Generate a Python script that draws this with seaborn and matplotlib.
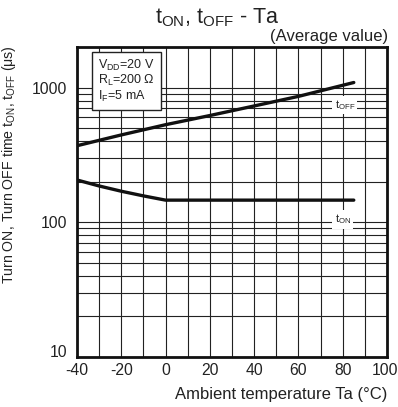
import matplotlib
matplotlib.use("Agg")
import matplotlib.pyplot as plt
import matplotlib.transforms as mtransforms
import seaborn as sns
import pandas as pd
from matplotlib.ticker import FixedLocator, LogLocator, NullFormatter

# Data
ta_off = [-40, -20, 0, 20, 40, 60, 85]
t_off = [370, 445, 530, 620, 730, 860, 1090]
ta_on = [-40, -30, -20, -10, 0, 40, 85]
t_on = [206, 186, 170, 157, 146, 146, 146]
x_ticks = [-40, -20, 0, 20, 40, 60, 80, 100]
y_ticks = [10, 100, 1000]

sns.set_style("white")
plt.rcParams['font.family'] = ['Liberation Sans', 'DejaVu Sans']
plt.rcParams['mathtext.fontset'] = 'custom'
plt.rcParams['mathtext.rm'] = 'Liberation Sans'
plt.rcParams['axes.unicode_minus'] = False

TXT = "#222222"
fig = plt.figure(figsize=(3.98, 4.07), dpi=100)
ax = fig.add_axes([77/398, 50/407, 310/398, 310/407])

df_off = pd.DataFrame({"Ta": ta_off, "t": t_off})
df_on = pd.DataFrame({"Ta": ta_on, "t": t_on})
sns.lineplot(data=df_off, x="Ta", y="t", ax=ax, color="#111111", lw=2.4, zorder=5)
sns.lineplot(data=df_on, x="Ta", y="t", ax=ax, color="#111111", lw=2.4, zorder=5)

ax.set_yscale("log")
ax.set_xlim(-40, 100)
ax.set_ylim(10, 2000)
ax.xaxis.set_major_locator(FixedLocator(x_ticks))
ax.xaxis.set_minor_locator(FixedLocator(list(range(-40, 101, 10))))
ax.yaxis.set_major_locator(FixedLocator(y_ticks))
ax.yaxis.set_minor_locator(LogLocator(base=10, subs=range(2, 10)))
ax.yaxis.set_minor_formatter(NullFormatter())
ax.set_xticklabels([str(v) for v in x_ticks])
ax.set_yticklabels([str(v) for v in y_ticks])
ax.grid(True, which="both", color="#222222", lw=0.8)
ax.tick_params(axis="x", which="both", length=0, labelsize=11.3, colors=TXT, pad=4)
ax.tick_params(axis="y", which="both", length=0, labelsize=11.3, colors=TXT, pad=7)
xl = ax.get_xticklabels()
xl[-1].set_transform(xl[-1].get_transform() + mtransforms.ScaledTranslation(-2/100, 0, fig.dpi_scale_trans))
yl = ax.get_yticklabels()
yl[0].set_verticalalignment("baseline")
for s in ax.spines.values():
    s.set_linewidth(2.0)
    s.set_color("#111111")
    s.set_visible(True)

ax.set_xlabel("Ambient temperature Ta (°C)", fontsize=12, color=TXT, loc="right", labelpad=7)
ax.set_ylabel(r"Turn ON, Turn OFF time t$_{\mathregular{ON}}$, t$_{\mathregular{OFF}}$ ($\mathregular{\mu}$s)",
              fontsize=10.2, color=TXT)
ax.yaxis.set_label_coords((18 - 77) / 310, (357 - 165) / 310)

fig.text(217/398, 1 - 18/407, r"t$_{\mathregular{ON}}$, t$_{\mathregular{OFF}}$ - Ta", ha="center", va="center",
         fontsize=15.5, color=TXT)
fig.text(388/398, 1 - 36/407, "(Average value)", ha="right", va="center", fontsize=12, color=TXT)

ax.text(-30.5, 1120, "V$_{\\mathregular{DD}}$=20 V\nR$_{\\mathregular{L}}$=200 Ω\nI$_{\\mathregular{F}}$=5 mA",
        fontsize=9, va="center", ha="left", color=TXT, linespacing=1.0,
        bbox=dict(boxstyle="square,pad=0.5", fc="white", ec="#222222", lw=1.0), zorder=6)

ax.text(81, 740, "t$_{\\mathregular{OFF}}$", fontsize=8, ha="center", va="center", color=TXT,
        bbox=dict(boxstyle="square,pad=0.2", fc="white", ec="none"), zorder=6)
ax.text(80, 105, "t$_{\\mathregular{ON}}$", fontsize=8, ha="center", va="center", color=TXT,
        bbox=dict(boxstyle="square,pad=0.2", fc="white", ec="none"), zorder=6)

fig.savefig("out.png", dpi=100)
